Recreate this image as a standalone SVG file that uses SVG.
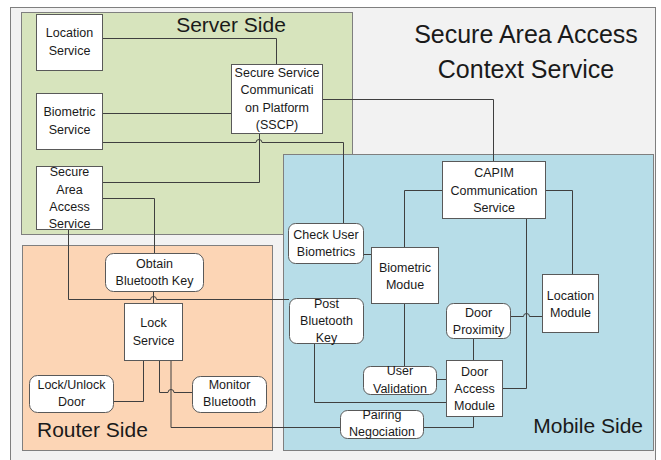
<svg xmlns="http://www.w3.org/2000/svg" width="661" height="460" viewBox="0 0 661 460">
<style>
  .t { font-family: "Liberation Sans", Arial, sans-serif; font-size: 12.5px; fill: #1a1a1a; text-anchor: middle; }
  .lbl { font-family: "Liberation Sans", Arial, sans-serif; font-size: 21px; fill: #1a1a1a; }
  .title { font-family: "Liberation Sans", Arial, sans-serif; font-size: 25px; fill: #1a1a1a; text-anchor: middle; }
  .box { fill: #ffffff; stroke: #595959; stroke-width: 1; }
  .rbox { fill: #ffffff; stroke: #595959; stroke-width: 1; }
  .region { stroke: #7f7f7f; stroke-width: 1; }
  .c { fill: none; stroke: #3f3f3f; stroke-width: 1; }
</style>
<rect width="661" height="460" fill="#ffffff"/>
<rect x="10.5" y="7.5" width="645" height="460" fill="#f2f2f2" stroke="#7f7f7f" stroke-width="1"/>
<g id="region-server">
  <rect class="region" x="21.5" y="12.5" width="331" height="222" fill="#d7e4bd"/>
  <text class="lbl" x="231" y="32" text-anchor="middle">Server Side</text>
</g>
<g id="region-router">
  <rect class="region" x="22.5" y="245.5" width="250" height="205" fill="#fcd5b5"/>
  <text class="lbl" x="37" y="437">Router Side</text>
</g>
<g id="region-mobile">
  <rect class="region" x="283.5" y="154.5" width="370" height="296" fill="#b7dde8"/>
  <text class="lbl" x="643" y="433" text-anchor="end">Mobile Side</text>
</g>
<g id="title">
  <text class="title" x="526" y="43">Secure Area Access</text>
  <text class="title" x="526" y="78">Context Service</text>
</g>
<g id="connectors">
  <path class="c" d="M102,38.5 H276.5 V64"/>
  <path class="c" d="M102,113.5 H231"/>
  <path class="c" d="M102,142.5 H256 A3,3 0 0 1 262,142.5 H343.5 V223"/>
  <path class="c" d="M322,99.5 H493.5 V161"/>
  <path class="c" d="M259.5,133 V182.5 H102"/>
  <path class="c" d="M102,198.5 H154.5 V253"/>
  <path class="c" d="M68.5,229 V299.5 H150.5 A3,3 0 0 1 156.5,299.5 H289"/>
  <path class="c" d="M153.5,291 V303"/>
  <path class="c" d="M143.5,360 V401.5 H113"/>
  <path class="c" d="M159.5,360 V392.5 H168 A3,3 0 0 1 174,392.5 H192"/>
  <path class="c" d="M171,360 V427.5 H340"/>
  <path class="c" d="M314.5,343 V402.5 H446"/>
  <path class="c" d="M363,254.5 H371"/>
  <path class="c" d="M404.5,247 V190.5 H442"/>
  <path class="c" d="M404.5,303 V366"/>
  <path class="c" d="M545,190.5 H572.5 V274"/>
  <path class="c" d="M526.5,218 V388.5 H502"/>
  <path class="c" d="M510,316.5 H523.5 A3,3 0 0 1 529.5,316.5 H542"/>
  <path class="c" d="M473.5,338 V360"/>
  <path class="c" d="M436,379.5 H446" stroke-width="1.5"/>
  <path class="c" d="M473.5,416 V427.5 H423"/>
</g>
<g id="location-service">
  <rect class="box" x="36.5" y="14.5" width="66" height="56"/>
  <text class="t" x="69.5" y="37">Location</text>
  <text class="t" x="69.5" y="55">Service</text>
</g>
<g id="biometric-service">
  <rect class="box" x="36.5" y="93.5" width="66" height="56"/>
  <text class="t" x="69.5" y="116">Biometric</text>
  <text class="t" x="69.5" y="134">Service</text>
</g>
<g id="secure-area-access-service">
  <rect class="box" x="36.5" y="166.5" width="66" height="63"/>
  <text class="t" x="69.5" y="176">Secure</text>
  <text class="t" x="69.5" y="194">Area</text>
  <text class="t" x="69.5" y="211">Access</text>
  <text class="t" x="69.5" y="228">Service</text>
</g>
<g id="sscp">
  <rect class="box" x="231.5" y="64.5" width="91" height="69"/>
  <text class="t" x="277" y="77">Secure Service</text>
  <text class="t" x="277" y="94">Communicati</text>
  <text class="t" x="277" y="112">on Platform</text>
  <text class="t" x="277" y="129">(SSCP)</text>
</g>
<g id="capim">
  <rect class="box" x="442.5" y="161.5" width="103" height="57"/>
  <text class="t" x="494" y="177">CAPIM</text>
  <text class="t" x="494" y="195">Communication</text>
  <text class="t" x="494" y="212">Service</text>
</g>
<g id="check-user-biometrics">
  <rect class="rbox" x="288.5" y="223.5" width="75" height="40" rx="7"/>
  <text class="t" x="326" y="239">Check User</text>
  <text class="t" x="326" y="256">Biometrics</text>
</g>
<g id="biometric-modue">
  <rect class="box" x="371.5" y="247.5" width="67" height="56"/>
  <text class="t" x="405" y="272">Biometric</text>
  <text class="t" x="405" y="289">Modue</text>
</g>
<g id="location-module">
  <rect class="box" x="542.5" y="274.5" width="56" height="58"/>
  <text class="t" x="570.5" y="300">Location</text>
  <text class="t" x="570.5" y="317">Module</text>
</g>
<g id="door-proximity">
  <rect class="rbox" x="446.5" y="303.5" width="64" height="35" rx="7"/>
  <text class="t" x="478.5" y="317">Door</text>
  <text class="t" x="478.5" y="334">Proximity</text>
</g>
<g id="post-bluetooth-key">
  <rect class="rbox" x="289.5" y="298.5" width="74" height="45" rx="7"/>
  <text class="t" x="326.5" y="308">Post</text>
  <text class="t" x="326.5" y="325">Bluetooth</text>
  <text class="t" x="326.5" y="342">Key</text>
</g>
<g id="user-validation">
  <rect class="rbox" x="363.5" y="366.5" width="73" height="28" rx="7"/>
  <text class="t" x="400" y="375">User</text>
  <text class="t" x="400" y="393">Validation</text>
</g>
<g id="door-access-module">
  <rect class="box" x="446.5" y="360.5" width="56" height="56"/>
  <text class="t" x="474.5" y="376">Door</text>
  <text class="t" x="474.5" y="393">Access</text>
  <text class="t" x="474.5" y="410">Module</text>
</g>
<g id="pairing-negociation">
  <rect class="rbox" x="340.5" y="410.5" width="83" height="28" rx="7"/>
  <text class="t" x="382" y="419">Pairing</text>
  <text class="t" x="382" y="436">Negociation</text>
</g>
<g id="obtain-bluetooth-key">
  <rect class="rbox" x="105.5" y="253.5" width="98" height="38" rx="8"/>
  <text class="t" x="154.5" y="268">Obtain</text>
  <text class="t" x="154.5" y="285">Bluetooth Key</text>
</g>
<g id="lock-service">
  <rect class="box" x="124.5" y="303.5" width="58" height="57"/>
  <text class="t" x="153.5" y="327">Lock</text>
  <text class="t" x="153.5" y="345">Service</text>
</g>
<g id="lock-unlock-door">
  <rect class="rbox" x="29.5" y="375.5" width="84" height="37" rx="8"/>
  <text class="t" x="71.5" y="389">Lock/Unlock</text>
  <text class="t" x="71.5" y="406">Door</text>
</g>
<g id="monitor-bluetooth">
  <rect class="rbox" x="192.5" y="376.5" width="74" height="36" rx="8"/>
  <text class="t" x="229.5" y="389">Monitor</text>
  <text class="t" x="229.5" y="406">Bluetooth</text>
</g>
</svg>
